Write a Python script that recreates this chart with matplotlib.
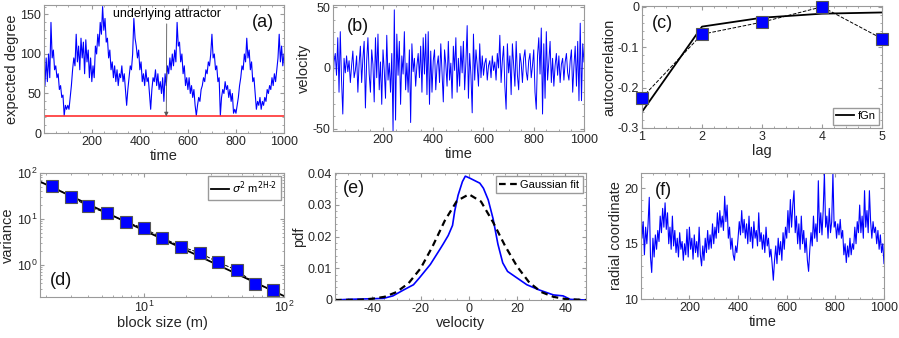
import numpy as np
import matplotlib
matplotlib.use('Agg')
import matplotlib.pyplot as plt
from matplotlib.ticker import AutoMinorLocator

plt.rcParams['font.family'] = ['Liberation Sans', 'DejaVu Sans']
plt.rcParams['axes.unicode_minus'] = False

# ---- data ----
# (a) expected degree, sampled every 5 time steps
time_s = np.arange(0, 1001, 5)
degree = [80, 60, 95, 65, 100, 70, 140, 95, 105, 80,
          85, 70, 75, 55, 60, 45, 48, 22, 35, 30,
          35, 30, 45, 60, 80, 95, 85, 125, 90, 110,
          80, 120, 95, 115, 75, 118, 90, 105, 70, 95,
          65, 85, 70, 110, 100, 125, 110, 140, 125, 160,
          130, 145, 115, 120, 95, 105, 80, 90, 70, 85,
          65, 80, 60, 75, 70, 85, 65, 75, 55, 35,
          55, 70, 85, 80, 100, 145, 120, 110, 95, 105,
          80, 90, 65, 75, 60, 80, 65, 70, 50, 30,
          55, 70, 65, 80, 60, 75, 55, 65, 50, 70,
          40, 75, 60, 85, 75, 95, 80, 100, 85, 105,
          90, 140, 110, 115, 90, 100, 75, 85, 60, 70,
          55, 70, 50, 60, 45, 55, 35, 22, 35, 45,
          40, 55, 60, 70, 65, 80, 75, 90, 85, 100,
          125, 95, 100, 80, 85, 65, 70, 22, 45, 55,
          50, 65, 55, 60, 45, 55, 40, 50, 25, 30,
          25, 35, 45, 60, 70, 85, 80, 100, 90, 120,
          95, 105, 80, 90, 65, 70, 50, 30, 40, 35,
          45, 30, 40, 35, 45, 40, 55, 50, 60, 55,
          70, 60, 75, 65, 80, 95, 125, 90, 110, 85,
          100]
attractor = 21

# (b) velocity
velocity = [-18, 5, 12, -6, 25, -20, 30, -10, -38, 8,
            -4, 10, -3, 6, -12, 2, 14, -8, -2, 10,
            -20, 4, 18, -12, 8, 22, -33, 6, 25, -5,
            -20, 15, 3, -28, 25, -8, 28, -18, 5, -30,
            15, -2, -25, 27, -10, 4, -20, 12, -52, 48,
            -43, 28, -6, 22, -30, 10, -5, 30, -18, 4,
            -20, 15, -45, 20, -3, 8, -15, 2, 12, -8,
            18, -20, 25, -5, 28, -22, 30, -30, 14, -20,
            6, 15, -18, 2, 10, -12, 20, -5, -28, 15,
            3, -15, 22, -10, 4, -25, 18, -2, 25, -20,
            8, -15, 18, -4, 22, -18, 5, 35, -25, 12,
            -6, -37, 28, -10, 15, 2, -15, 20, -8, 10,
            -6, 4, 8, -10, 2, 6, -8, 10, -2, 5,
            -10, 12, 0, 27, -12, 6, 18, -15, -34, 20,
            -4, 10, -22, 20, 3, -15, 22, -6, -18, 12,
            4, -12, 8, 15, -3, -10, 6, 12, -8, 2,
            15, -20, -34, 10, 25, -5, 33, -38, 20, -25,
            30, -10, 5, 22, -12, 8, -15, 2, 12, -6,
            10, -12, 3, 8, -10, 5, 12, -4, -10, 6,
            15, -20, 2, 18, -15, 22, -27, 37, -27, 20,
            5]

# (c) autocorrelation
lags = [1, 2, 3, 4, 5]
acf_data = [-0.225, -0.068, -0.038, 0.0, -0.079]
acf_fgn = [-0.26, -0.049, -0.027, -0.017, -0.014]

# (d) variance vs block size
block = [2.2, 3.0, 4.0, 5.4, 7.4, 10, 13.5, 18.4, 25, 34, 46, 62, 84]
variance = [52, 30, 18.8, 13.4, 8.7, 6.2, 3.9, 2.5, 1.82, 1.13, 0.77, 0.39, 0.28]
fit_block = [1.8, 100]
fit_var = [65, 0.21]

# (e) velocity pdf
kde_v = [-55.5, -50, -45, -40, -35.5, -31.5, -27, -23, -20.5, -16, -12, -10.7,
         -8.6, -6.8, -5.9, -4.5, -2.7, -1.5, 0.3, 2.4, 4.5, 6, 8, 10, 12, 14,
         16, 20, 24, 29, 35, 39, 42, 48.5]
kde_p = [0, 0.0002, 0.0003, 0.0004, 0.0005, 0.0013, 0.0032, 0.0048, 0.007,
         0.0112, 0.016, 0.0176, 0.0203, 0.0235, 0.028, 0.033, 0.0373, 0.039,
         0.0384, 0.0376, 0.0368, 0.0352, 0.0315, 0.0256, 0.0176, 0.0117,
         0.009, 0.0069, 0.0048, 0.0032, 0.0016, 0.0013, 0.0002, 0]
gauss_v = [-55.5, -45, -40, -35, -30, -25, -20, -15, -10, -5, 0, 5, 10, 15,
           20, 25, 30, 35, 40, 48.5]
gauss_p = [0, 0.0001, 0.0004, 0.001, 0.0025, 0.0053, 0.0100, 0.017, 0.025,
           0.0312, 0.0333, 0.031, 0.0245, 0.017, 0.0105, 0.0055, 0.0025,
           0.001, 0.0003, 0]

# (f) radial coordinate
radial = [19.5, 15.5, 17.0, 14.0, 16.5, 15.0, 16.8, 19.2, 13.8, 12.4,
          15.5, 13.8, 15.8, 14.5, 16.2, 15.2, 17.5, 16.0, 18.2, 16.5,
          18.7, 16.3, 17.8, 15.0, 16.5, 14.5, 17.5, 14.8, 16.2, 14.2,
          15.5, 13.8, 16.0, 14.5, 15.2, 13.5, 15.0, 14.0, 16.3, 13.8,
          16.5, 14.5, 15.5, 13.6, 15.8, 14.2, 15.2, 13.8, 16.5, 14.0,
          13.0, 14.8, 13.5, 15.5, 14.2, 16.2, 14.5, 15.8, 14.6, 16.8,
          15.0, 16.5, 15.5, 17.8, 16.0, 18.0, 16.5, 17.5, 16.2, 19.3,
          17.0, 18.5, 15.5, 16.5, 14.5, 15.5, 14.0, 13.5, 14.8, 14.2,
          15.5, 17.0, 15.8, 18.0, 16.0, 17.2, 15.5, 16.8, 15.0, 17.5,
          15.2, 16.5, 14.6, 17.0, 15.5, 16.2, 14.8, 17.8, 15.2, 16.0,
          14.5, 15.8, 14.2, 16.5, 14.8, 15.5, 13.8, 14.5, 13.2, 11.7,
          13.5, 14.8, 13.2, 15.5, 14.0, 15.2, 13.5, 16.0, 14.5, 16.5,
          15.5, 18.0, 16.0, 19.0, 16.5, 18.5, 19.8, 16.0, 17.5, 15.0,
          16.8, 14.5, 17.5, 15.0, 16.2, 14.2, 15.5, 13.5, 12.5, 14.5,
          16.0, 14.8, 17.5, 15.5, 16.8, 15.2, 20.7, 16.0, 17.8, 15.8,
          18.0, 21.4, 16.5, 17.5, 15.5, 18.2, 16.0, 17.0, 21.4, 16.5,
          17.0, 15.5, 16.8, 15.8, 17.2, 15.5, 16.2, 14.0, 15.0, 13.3,
          14.8, 13.8, 15.5, 14.0, 15.0, 14.5, 16.5, 15.0, 17.0, 16.0,
          18.5, 16.0, 17.5, 15.5, 19.8, 16.5, 18.0, 16.0, 19.8, 17.0,
          15.5, 17.0, 16.0, 16.5, 15.0, 16.2, 14.5, 15.8, 14.2, 15.0,
          13.2]

W, H = 899, 338
fig = plt.figure(figsize=(W / 100, H / 100), dpi=100)


def box(l, r, t, b):
    return [l / W, (H - b) / H, (r - l) / W, (b - t) / H]


def style(ax, minor=True):
    for s in ax.spines.values():
        s.set_color('#9a9a9a')
        s.set_linewidth(0.8)
    if minor:
        ax.xaxis.set_minor_locator(AutoMinorLocator())
        ax.yaxis.set_minor_locator(AutoMinorLocator())
    ax.tick_params(which='both', direction='in', top=True, right=True,
                   color='#9a9a9a', labelcolor='#262626', labelsize=9, pad=2)
    ax.tick_params(which='major', length=3)
    ax.tick_params(which='minor', length=1.6)


def tag(ax, s, x, y):
    ax.text(x, y, s, transform=ax.transAxes, fontsize=13, ha='left',
            va='center', color='#111111')


def leg(ax, loc):
    ax.legend(loc=loc, fontsize=8, handlelength=1.6, handletextpad=0.3,
              fancybox=False, edgecolor='#9a9a9a', borderpad=0.3,
              borderaxespad=0.3, framealpha=1)


lab = dict(fontsize=10.5, color='#262626', labelpad=1)
tticks = [200, 400, 600, 800, 1000]

# (a)
ax = fig.add_axes(box(44, 284, 5, 133))
ax.plot(time_s, degree, color='blue', lw=0.8)
ax.axhline(attractor, color='#ff3030', lw=1.2)
ax.annotate('underlying attractor', xy=(510, attractor), xytext=(512, 151),
            ha='center', va='center', fontsize=9,
            arrowprops=dict(arrowstyle='-|>', color='#555555', lw=0.6,
                            mutation_scale=6, shrinkA=1, shrinkB=0))
ax.set_xlim(1, 1000)
ax.set_ylim(0, 162)
ax.set_xticks(tticks)
ax.set_yticks([0, 50, 100, 150])
ax.set_xlabel('time', **lab)
ax.set_ylabel('expected degree', **lab)
style(ax)
tag(ax, '(a)', 0.865, 0.86)

# (b)
ax = fig.add_axes(box(333, 584, 5, 131))
ax.plot(time_s, velocity, color='blue', lw=0.7)
ax.set_xlim(1, 1000)
ax.set_ylim(-52, 52)
ax.set_xticks(tticks)
ax.set_yticks([-50, 0, 50])
ax.set_xlabel('time', **lab)
ax.set_ylabel('velocity', **lab)
style(ax)
tag(ax, '(b)', 0.055, 0.83)

# (c)
ax = fig.add_axes(box(642, 882, 6, 128))
ax.plot(lags, acf_data, '--', color='black', lw=0.7)
ax.plot(lags, acf_data, 's', color='blue', ms=8, mec='#555555', mew=0.8,
        clip_on=False, zorder=4)
ax.plot(lags, acf_fgn, '-', color='black', lw=1.3, label='fGn')
ax.set_xlim(1, 5)
ax.set_ylim(-0.3, 0.002)
ax.set_xticks(lags)
ax.set_yticks([-0.3, -0.2, -0.1, 0])
ax.set_yticklabels(['-0.3', '-0.2', '-0.1', '0'])
ax.set_xlabel('lag', **lab)
ax.set_ylabel('autocorrelation', **lab)
style(ax)
leg(ax, 'lower right')
tag(ax, '(c)', 0.04, 0.86)

# (d)
ax = fig.add_axes(box(40, 284, 173, 297))
ax.plot(block, variance, '--', color='black', lw=0.7)
ax.plot(block, variance, 's', color='blue', ms=8, mec='#555555', mew=0.8,
        zorder=4)
ax.plot(fit_block, fit_var, '-', color='black', lw=1.3,
        label=r'$\sigma^2$ m$^{\mathrm{2H\text{-}2}}$')
ax.set_xscale('log')
ax.set_yscale('log')
ax.set_xlim(1.8, 100)
ax.set_ylim(0.2, 100)
ax.set_xlabel('block size (m)', **lab)
ax.set_ylabel('variance', **lab)
style(ax, minor=False)
leg(ax, 'upper right')
tag(ax, '(d)', 0.04, 0.13)

# (e)
ax = fig.add_axes(box(335, 586, 173, 300))
ax.plot(kde_v, kde_p, '-', color='blue', lw=1.2)
ax.plot(gauss_v, gauss_p, '--', color='black', lw=1.6, dashes=(3, 2),
        label='Gaussian fit')
ax.set_xlim(-55.5, 48.5)
ax.set_ylim(0, 0.04)
ax.set_xticks([-40, -20, 0, 20, 40])
ax.set_yticks([0, 0.01, 0.02, 0.03, 0.04])
ax.set_yticklabels(['0', '0.01', '0.02', '0.03', '0.04'])
ax.set_xlabel('velocity', **lab)
ax.set_ylabel('pdf', **lab)
style(ax)
leg(ax, 'upper right')
tag(ax, '(e)', 0.032, 0.88)

# (f)
ax = fig.add_axes(box(641, 884, 173, 299))
ax.plot(time_s, radial, color='blue', lw=0.8)
ax.set_xlim(1, 1000)
ax.set_ylim(10, 21.4)
ax.set_xticks(tticks)
ax.set_yticks([10, 15, 20])
ax.set_xlabel('time', **lab)
ax.set_ylabel('radial coordinate', **lab)
style(ax)
tag(ax, '(f)', 0.058, 0.865)

fig.savefig('out.png', dpi=100)
